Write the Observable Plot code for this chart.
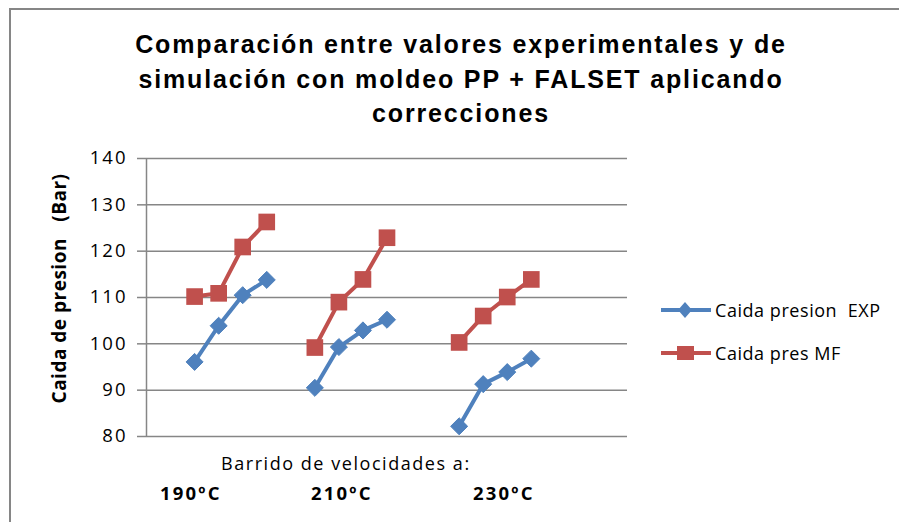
<!DOCTYPE html>
<html><head><meta charset="utf-8">
<script src="https://cdn.jsdelivr.net/npm/d3@7"></script>
<script src="https://cdn.jsdelivr.net/npm/@observablehq/plot@0.6"></script>
<style>
body{margin:0;background:#fff;}
#wrap{position:relative;width:899px;height:522px;overflow:hidden;background:#fff;}
#frame{position:absolute;left:9px;top:8px;width:1000px;height:1000px;border-left:2px solid #868686;border-top:2px solid #868686;}
#title{position:absolute;left:0;top:27px;width:922px;text-align:center;font-family:"Liberation Sans",Arial,sans-serif;font-weight:bold;font-size:25px;line-height:34.5px;color:#000;letter-spacing:1.85px;}
#plot{position:absolute;left:0;top:0;}
#plot svg g[aria-label="y-axis tick label"] text{letter-spacing:2px;}
.t{position:absolute;font-family:"Open Sans",sans-serif;color:#000;white-space:pre;}
.leg{position:absolute;left:660px;font-family:"Open Sans",sans-serif;font-size:18px;letter-spacing:0.55px;white-space:pre;display:flex;align-items:center;}
</style></head>
<body>
<div id="wrap">
<div id="frame"></div>
<div id="title">Comparación entre valores experimentales y de<br>simulación con moldeo PP + FALSET aplicando<br>correcciones</div>
<div id="plot"></div>
</div>
<script>
// Data
const groups = ["190ºC", "210ºC", "230ºC"];
const slot = [2, 3, 4, 5, 7, 8, 9, 10, 13, 14, 15, 16];
const groupOf = ["190ºC","190ºC","190ºC","190ºC","210ºC","210ºC","210ºC","210ºC","230ºC","230ºC","230ºC","230ºC"];
const exp = [96.1, 103.9, 110.5, 113.8, 90.5, 99.3, 102.9, 105.2, 82.2, 91.3, 93.9, 96.8];
const mf  = [110.2, 110.9, 120.9, 126.3, 99.2, 109.0, 113.9, 122.9, 100.3, 106.0, 110.1, 113.9];
const seriesNames = ["Caida presion  EXP", "Caida pres MF"];
const colors = ["#4F81BD", "#C0504D"];
const yTicks = [80, 90, 100, 110, 120, 130, 140];
const yLabel = "Caida de presion   (Bar)";
const xTitle = "Barrido de velocidades a:";

const rows = [];
slot.forEach((s, i) => {
  rows.push({x: s, y: exp[i], g: groupOf[i], series: seriesNames[0]});
  rows.push({x: s, y: mf[i], g: groupOf[i], series: seriesNames[1]});
});
const expRows = rows.filter(d => d.series === seriesNames[0]);
const mfRows = rows.filter(d => d.series === seriesNames[1]);

const diamond = {draw(ctx, size){ const h = Math.sqrt(size/2); ctx.moveTo(0,-h); ctx.lineTo(h,0); ctx.lineTo(0,h); ctx.lineTo(-h,0); ctx.closePath(); }};
const square = {draw(ctx, size){ const w = Math.sqrt(size)/2; ctx.rect(-w,-w,2*w,2*w); }};

const plot = Plot.plot({
  width: 899, height: 522,
  marginLeft: 146, marginRight: 272, marginTop: 158, marginBottom: 86,
  style: {fontFamily: "Open Sans, sans-serif", background: "transparent", overflow: "visible"},
  x: {domain: [0, 20], axis: null},
  y: {domain: [80, 140], ticks: yTicks},
  marks: [
    Plot.gridY(yTicks, {stroke: "#868686", strokeOpacity: 1, strokeWidth: 1.5}),
    Plot.ruleX([0], {stroke: "#868686", strokeWidth: 1.5}),
    Plot.axisY(yTicks, {tickSize: 9, tickPadding: 10, stroke: "#868686", strokeWidth: 1.5, fontSize: 18.5, fill: "#000", label: null}),
    Plot.text([yLabel.replace(/ /g, "\u00a0")], {frameAnchor: "left", textAnchor: "middle", dx: -87, dy: -9, rotate: -90, fontSize: 19, fontWeight: "bold", fill: "#000"}),
    Plot.line(expRows, {x: "x", y: "y", z: "g", stroke: colors[0], strokeWidth: 4}),
    Plot.line(mfRows, {x: "x", y: "y", z: "g", stroke: colors[1], strokeWidth: 4}),
    Plot.dot(expRows, {x: "x", y: "y", symbol: diamond, r: 6.8, fill: colors[0], stroke: colors[0], strokeWidth: 1}),
    Plot.dot(mfRows, {x: "x", y: "y", symbol: square, r: 9.4, fill: colors[1], stroke: "none"})
  ]
});
document.getElementById("plot").appendChild(plot);
// letter spacing for the rotated y label
plot.querySelectorAll("text").forEach(t => { if (t.textContent.startsWith("Caida")) t.style.letterSpacing = "0.5px"; });

const wrap = document.getElementById("wrap");
function addText(txt, left, top, size, weight, ls) {
  const d = document.createElement("div");
  d.className = "t"; d.textContent = txt;
  d.style.left = left + "px"; d.style.top = top + "px";
  d.style.fontSize = size + "px"; d.style.fontWeight = weight;
  d.style.letterSpacing = ls + "px";
  wrap.appendChild(d);
}
addText(xTitle, 221, 451, 18, 500, 1.55);
const gx = [160, 311, 473];
groups.forEach((g, i) => addText(g, gx[i], 480, 18.5, 700, 2.2));

// Legend
const legTops = [298, 341];
const syms = ["diamond", "square"];
seriesNames.forEach((name, i) => {
  const d = document.createElement("div");
  d.className = "leg"; d.style.top = legTops[i] + "px";
  const sw = syms[i] === "diamond"
    ? `<polygon points="25,3 32,11 25,19 18,11" fill="${colors[i]}"/>`
    : `<rect x="17" y="4" width="17" height="14" fill="${colors[i]}"/>`;
  d.innerHTML = `<svg width="52" height="22" style="display:block"><line x1="1" x2="51" y1="11" y2="11" stroke="${colors[i]}" stroke-width="4"/>${sw}</svg><span style="margin-left:3px"></span>`;
  d.querySelector("span").textContent = name;
  wrap.appendChild(d);
});
</script>
</body></html>
